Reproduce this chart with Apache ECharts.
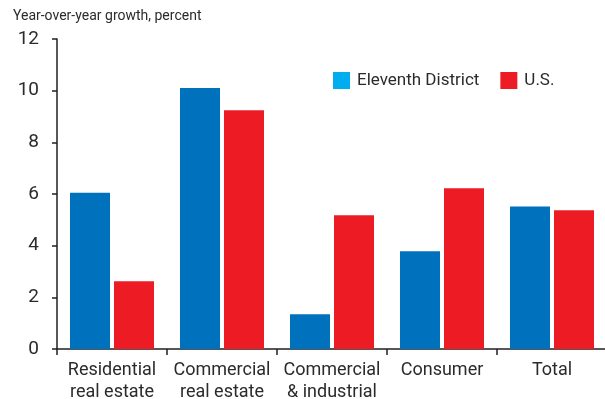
<!DOCTYPE html>
<html>
<head>
<meta charset="utf-8">
<script src="https://cdn.jsdelivr.net/npm/echarts@6/dist/echarts.min.js"></script>
<style>
html,body{margin:0;padding:0;background:#fff;}
#main{width:605px;height:399px;}
</style>
</head>
<body>
<div id="main"></div>
<script>
var categories = ['Residential\nreal estate', 'Commercial\nreal estate', 'Commercial\n& industrial', 'Consumer', 'Total'];
var eleventhDistrict = [6.05, 10.1, 1.35, 3.78, 5.52];
var us = [2.62, 9.24, 5.18, 6.22, 5.37];
var yTicks = { min: 0, max: 12, interval: 2 };
var seriesNames = ['Eleventh District', 'U.S.'];

var FONT = 'Roboto, "Liberation Sans", sans-serif';
var TEXT = '#2b2b2b';
var AXIS = '#231f20';

var chart = echarts.init(document.getElementById('main'), null, { renderer: 'canvas' });
chart.setOption({
  animation: false,
  backgroundColor: '#ffffff',
  title: {
    text: 'Year-over-year growth, percent',
    left: 8, top: 4,
    textStyle: { fontFamily: FONT, fontSize: 14, fontWeight: 'normal', color: TEXT }
  },
  legend: {
    left: 328, top: 67,
    itemWidth: 17, itemHeight: 17, itemGap: 21,
    icon: 'rect',
    textStyle: { fontFamily: FONT, fontSize: 17, color: TEXT, padding: [0, 0, 0, 2] },
    data: [
      { name: seriesNames[0], itemStyle: { color: '#00aeef' } },
      { name: seriesNames[1], itemStyle: { color: '#ed1c24' } }
    ]
  },
  grid: { left: 57, top: 39, width: 550, bottom: 50, containLabel: false, outerBoundsMode: 'none' },
  xAxis: {
    type: 'category',
    data: categories,
    axisLine: { lineStyle: { color: AXIS, width: 1.5 } },
    axisTick: { show: true, length: 6, lineStyle: { color: AXIS, width: 1.5 } },
    axisLabel: { fontFamily: FONT, fontSize: 18, color: TEXT, margin: 10, lineHeight: 22, interval: 0 }
  },
  yAxis: {
    type: 'value',
    min: yTicks.min, max: yTicks.max, interval: yTicks.interval,
    axisLine: { show: true, lineStyle: { color: AXIS, width: 1.5 } },
    axisTick: { show: true, length: 5, lineStyle: { color: AXIS, width: 1.5 } },
    splitLine: { show: false },
    axisLabel: { fontFamily: FONT, fontSize: 19, color: TEXT, margin: 18 }
  },
  series: [
    { name: seriesNames[0], type: 'bar', data: eleventhDistrict, barWidth: 40, barGap: '10%', itemStyle: { color: '#0071bc' } },
    { name: seriesNames[1], type: 'bar', data: us, barWidth: 40, itemStyle: { color: '#ed1c24' } }
  ]
});
</script>
</body>
</html>
